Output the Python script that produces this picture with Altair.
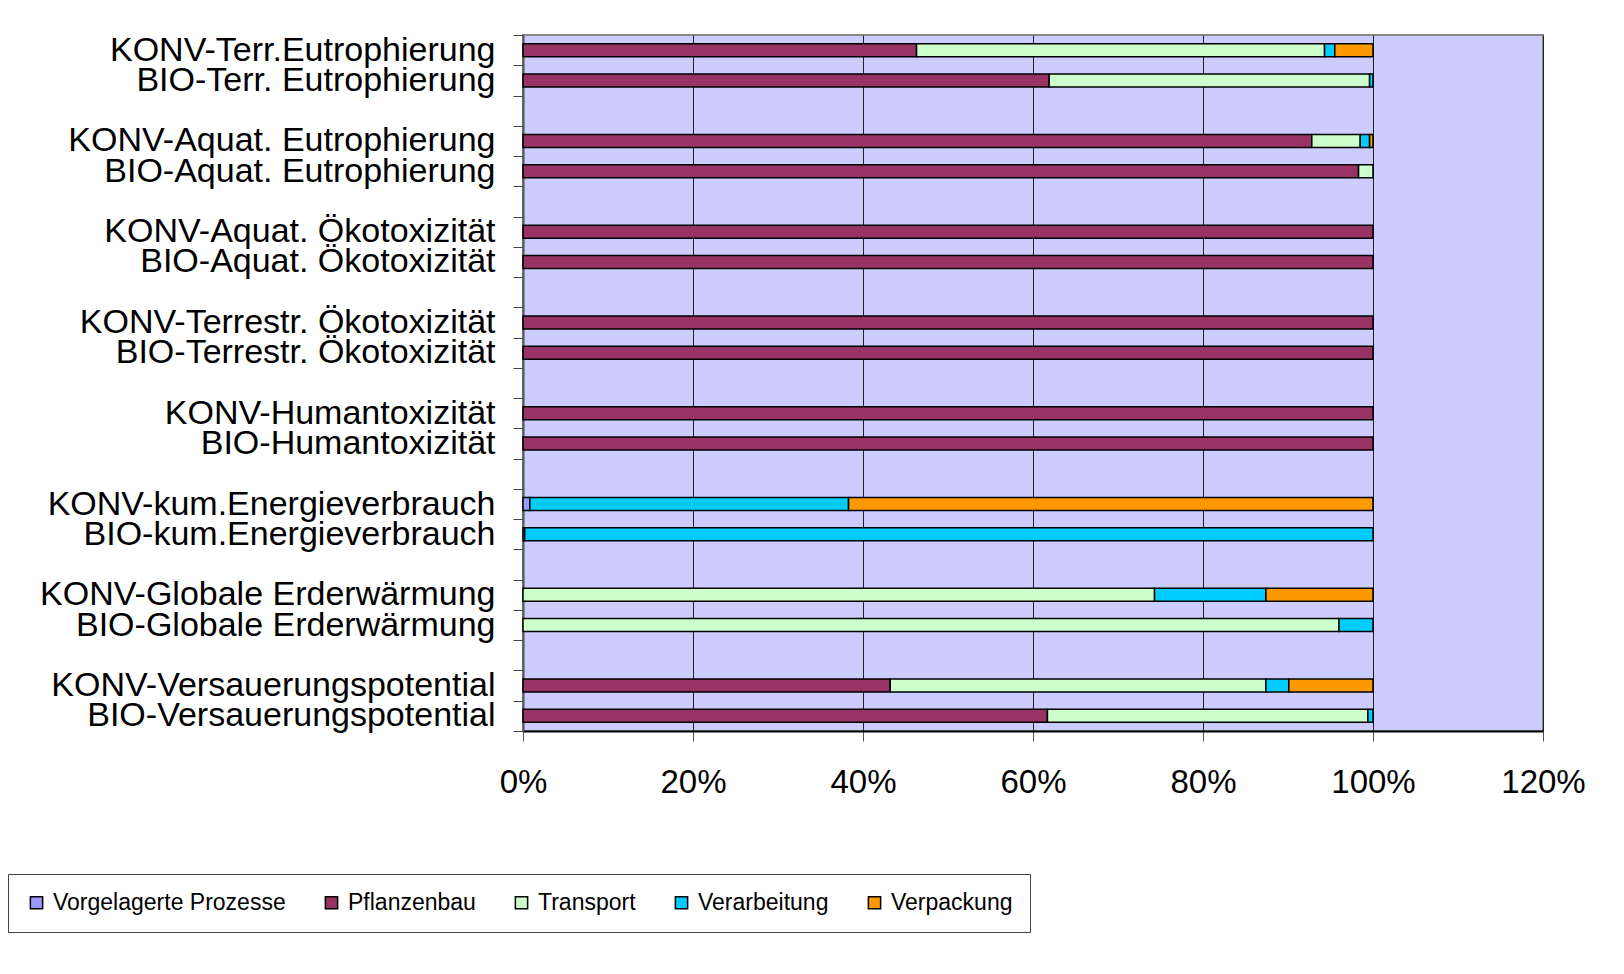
import altair as alt
import pandas as pd

# Categories, top to bottom ("gapN" are the empty separator rows)
categories = [
    "KONV-Terr.Eutrophierung", "BIO-Terr. Eutrophierung", "gap1",
    "KONV-Aquat. Eutrophierung", "BIO-Aquat. Eutrophierung", "gap2",
    "KONV-Aquat. Ökotoxizität", "BIO-Aquat. Ökotoxizität", "gap3",
    "KONV-Terrestr. Ökotoxizität", "BIO-Terrestr. Ökotoxizität", "gap4",
    "KONV-Humantoxizität", "BIO-Humantoxizität", "gap5",
    "KONV-kum.Energieverbrauch", "BIO-kum.Energieverbrauch", "gap6",
    "KONV-Globale Erderwärmung", "BIO-Globale Erderwärmung", "gap7",
    "KONV-Versauerungspotential", "BIO-Versauerungspotential",
]

bars = [c for c in categories if not c.startswith("gap")]

series = ["Vorgelagerte Prozesse", "Pflanzenbau", "Transport", "Verarbeitung", "Verpackung"]
colors = ["#9999FF", "#993366", "#CCFFCC", "#00CCFF", "#FF9900"]

# shares per bar (same order as `bars`)
vorgelagerte = [0, 0, 0, 0, 0, 0, 0, 0, 0, 0, 0.008, 0.002, 0, 0, 0, 0]
pflanzenbau  = [0.463, 0.619, 0.928, 0.983, 1.0, 1.0, 1.0, 1.0, 1.0, 1.0, 0, 0, 0, 0, 0.432, 0.617]
transport    = [0.480, 0.377, 0.057, 0.017, 0, 0, 0, 0, 0, 0, 0, 0, 0.743, 0.960, 0.442, 0.377]
verarbeitung = [0.012, 0.004, 0.011, 0, 0, 0, 0, 0, 0, 0, 0.375, 0.998, 0.131, 0.040, 0.027, 0.006]
verpackung   = [0.045, 0, 0.004, 0, 0, 0, 0, 0, 0, 0, 0.617, 0, 0.126, 0, 0.099, 0]

values = [vorgelagerte, pflanzenbau, transport, verarbeitung, verpackung]

rows = []
for i, cat in enumerate(bars):
    for k, (s, vals) in enumerate(zip(series, values)):
        if vals[i] > 0:
            rows.append({"cat": cat, "series": s, "order": k, "value": vals[i]})
df = pd.DataFrame(rows)

x_ticks = [0, 0.2, 0.4, 0.6, 0.8, 1.0, 1.2]

chart = alt.Chart(df).mark_bar(size=13, stroke="black", strokeWidth=1.5).encode(
    x=alt.X(
        "value:Q",
        stack="zero",
        scale=alt.Scale(domain=[0, 1.2], nice=False),
        axis=alt.Axis(
            title=None, values=x_ticks, format=".0%", labelFlush=False,
            labelFontSize=33, labelColor="black", labelPadding=25,
            tickSize=10, tickColor="#555", domainColor="black", domainWidth=2,
            grid=True, gridColor="#222", gridWidth=1,
        ),
    ),
    y=alt.Y(
        "cat:N",
        sort=categories,
        scale=alt.Scale(domain=categories, paddingInner=0, paddingOuter=0),
        axis=alt.Axis(
            title=None,
            labelExpr="indexof(datum.label, 'gap') == 0 ? '' : datum.label",
            labelFontSize=34, labelColor="black", labelLimit=700, labelPadding=18,
            tickBand="extent", tickSize=10, tickColor="#444",
            domainColor="#555", domainWidth=2, grid=False,
        ),
    ),
    color=alt.Color(
        "series:N",
        scale=alt.Scale(domain=series, range=colors),
        legend=alt.Legend(
            title=None, orient="none", legendX=-515, legendY=839,
            direction="horizontal", columns=5, columnPadding=34,
            symbolType="square", symbolSize=150, symbolStrokeColor="black",
            symbolStrokeWidth=1.5, labelFontSize=23, labelColor="black",
            labelLimit=400, labelOffset=5, padding=17,
            strokeColor="#444", fillColor="white",
        ),
    ),
    order=alt.Order("order:Q"),
).properties(
    width=1020,
    height=696,
    autosize=alt.AutoSizeParams(type="none"),
    padding={"left": 523, "top": 35, "right": 81, "bottom": 243},
    background="white",
).configure(
    font="Liberation Sans",
).configure_view(
    fill="#CCCCFF", stroke="#888888", strokeWidth=2,
)

chart.save("out.html", embed_options={"renderer": "svg", "actions": False})
